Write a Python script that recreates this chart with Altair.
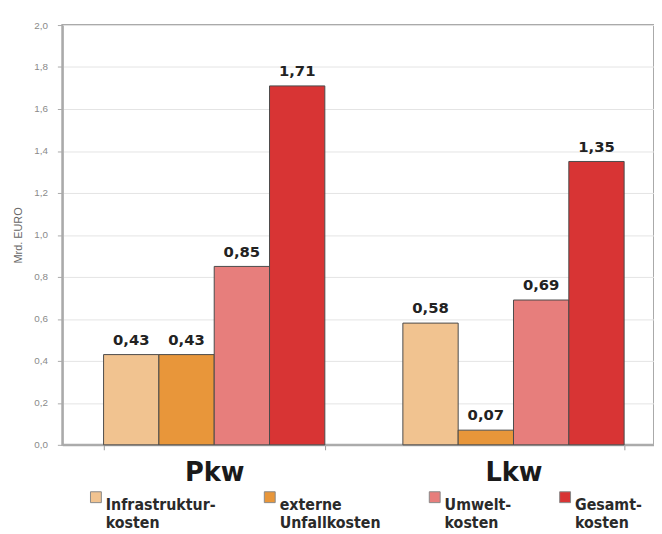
import altair as alt
import pandas as pd

groups = ["Pkw", "Lkw"]
categories = ["Infrastrukturkosten", "externe Unfallkosten", "Umweltkosten", "Gesamtkosten"]
legend_lines = [["Infrastruktur-", "kosten"], ["externe", "Unfallkosten"], ["Umwelt-", "kosten"], ["Gesamt-", "kosten"]]
pkw_values = [0.43, 0.43, 0.85, 1.71]
lkw_values = [0.58, 0.07, 0.69, 1.35]
colors = ["#F1C390", "#E8963A", "#E77E7C", "#D83434"]
y_ticks = [0.0, 0.2, 0.4, 0.6, 0.8, 1.0, 1.2, 1.4, 1.6, 1.8, 2.0]

rows = []
for g, vals in zip(groups, [pkw_values, lkw_values]):
    for c, v in zip(categories, vals):
        rows.append({"group": g, "category": c, "value": v})
df = pd.DataFrame(rows)

legend_expr = ""
for c, lines in zip(categories, legend_lines):
    legend_expr += "datum.label == '%s' ? ['%s', '%s'] : " % (c, lines[0], lines[1])
legend_expr += "datum.label"

x_enc = alt.X(
    "group:N",
    sort=groups,
    scale=alt.Scale(paddingInner=0.2607, paddingOuter=0.1188, align=0.58),
    axis=alt.Axis(
        title=None, labelAngle=0, labelFont="DejaVu Sans", labelFontWeight="bold",
        labelFontSize=26, labelColor="#1a1a1a", tickBand="extent", tickSize=5,
        tickColor="#999999", domainColor="#aaaaaa", domainWidth=2, labelPadding=10, grid=False,
    ),
)
xoff_enc = alt.XOffset("category:N", sort=categories, scale=alt.Scale(paddingInner=0, paddingOuter=0))
y_enc = alt.Y(
    "value:Q",
    scale=alt.Scale(domain=[0, 2]),
    axis=alt.Axis(
        values=y_ticks,
        labelExpr="replace(format(datum.value, '.1f'), '.', ',')",
        title="Mrd. EURO", titleFont="Liberation Sans", titleFontSize=11,
        titleFontWeight="normal", titleColor="#666666", titlePadding=10,
        labelFont="Liberation Sans", labelFontSize=10, labelColor="#8a8a8a",
        labelPadding=10, tickSize=5, tickColor="#aaaaaa", domainColor="#aaaaaa",
        domainWidth=2, gridColor="#e4e4e4", gridWidth=1,
    ),
)

base = alt.Chart(df)

bars = base.mark_bar(stroke="#4a4a4a", strokeWidth=1).encode(
    x=x_enc,
    xOffset=xoff_enc,
    y=y_enc,
    color=alt.Color(
        "category:N",
        sort=categories,
        scale=alt.Scale(domain=categories, range=colors),
        legend=alt.Legend(
            title=None, orient="none", legendX=26, legendY=470, direction="horizontal",
            columns=4, columnPadding=46, padding=0, symbolType="square", symbolSize=121,
            symbolStrokeColor="#888888", symbolStrokeWidth=1, symbolOpacity=1,
            labelFont="DejaVu Sans Condensed, Roboto", labelFontWeight="bold", labelFontSize=16,
            labelColor="#2a2a2a", labelBaseline="top", labelLimit=0, labelOffset=2,
            labelExpr=legend_expr,
        ),
    ),
)

labels = base.transform_calculate(
    label="replace(format(datum.value, '.2f'), '.', ',')"
).mark_text(
    font="DejaVu Sans", fontWeight="bold", fontSize=15, color="#222222",
    baseline="alphabetic", dy=-10,
).encode(
    x=alt.X("group:N", sort=groups),
    xOffset=alt.XOffset("category:N", sort=categories),
    y=alt.Y("value:Q"),
    text="label:N",
)

chart = alt.layer(bars, labels).properties(
    width=599,
    height=425,
    autosize=alt.AutoSizeParams(type="none"),
    padding={"left": 55, "top": 14, "right": 0, "bottom": 87},
).configure_view(stroke="#aaaaaa", strokeWidth=2)

chart.save("out.html", embed_options={"renderer": "svg", "actions": False})
